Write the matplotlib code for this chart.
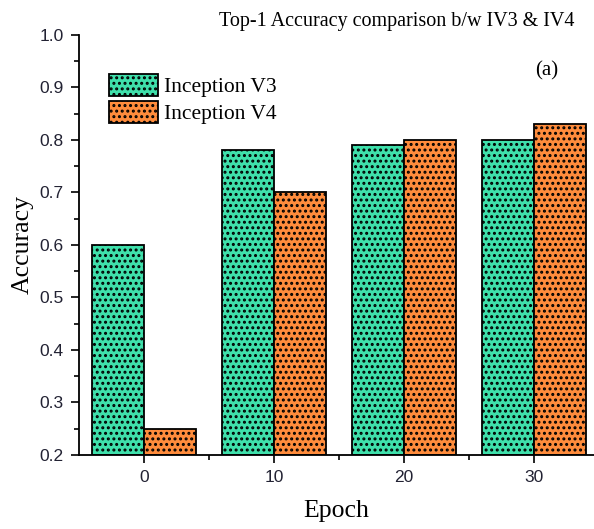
import matplotlib.pyplot as plt
import numpy as np

# данные с графика
epochs = [0, 10, 20, 30]
acc_v3 = [0.60, 0.78, 0.79, 0.80]
acc_v4 = [0.25, 0.70, 0.80, 0.83]
labels = ['Inception V3', 'Inception V4']

green = '#3fe0ab'
orange = '#ff8c3c'
plt.rcParams['hatch.linewidth'] = 1.4

fig = plt.figure(figsize=(5.94, 5.29), dpi=100)
ax = fig.add_axes([0.133, 0.140, 0.867, 0.794])

x = np.array(epochs)
w = 4
ax.bar(x - w / 2, np.array(acc_v3) - 0.2, w, bottom=0.2, color=green,
       edgecolor='black', linewidth=1.3, hatch='...', label=labels[0])
ax.bar(x + w / 2, np.array(acc_v4) - 0.2, w, bottom=0.2, color=orange,
       edgecolor='black', linewidth=1.3, hatch='...', label=labels[1])

ax.set_xlim(-5, 34.6)
ax.set_ylim(0.2, 1.0)
ax.set_xticks(epochs)
ax.set_xticks([5, 15, 25], minor=True)
ax.set_yticks(np.arange(0.2, 1.01, 0.1))
ax.set_yticks(np.arange(0.25, 1.0, 0.1), minor=True)
ax.set_yticklabels([f'{v:.1f}' for v in np.arange(0.2, 1.01, 0.1)])

for s in ['top', 'right']:
    ax.spines[s].set_visible(False)
for s in ['left', 'bottom']:
    ax.spines[s].set_linewidth(1.3)

ax.tick_params(which='major', direction='out', length=6, width=1.2,
               labelsize=12.5, pad=5)
ax.tick_params(which='minor', direction='out', length=3.5, width=1.2)
for t in ax.get_xticklabels() + ax.get_yticklabels():
    t.set_fontfamily('Liberation Sans')
    t.set_color('#222233')

ax.set_xlabel('Epoch', fontfamily='Liberation Serif', fontsize=18.5, labelpad=11)
ax.set_ylabel('Accuracy', fontfamily='Liberation Serif', fontsize=18.5, labelpad=4)

fig.text(0.668, 0.960, 'Top-1 Accuracy comparison b/w IV3 & IV4',
         fontfamily='Liberation Serif', fontsize=14.5, ha='center', va='center')
ax.text(0.909, 0.914, '(a)', transform=ax.transAxes,
        fontfamily='Liberation Serif', fontsize=15, ha='center', va='center')

ax.legend(loc='upper left', bbox_to_anchor=(0.058, 0.907), frameon=False,
          prop={'family': 'Liberation Serif', 'size': 15.5},
          handlelength=2.3, handleheight=1.2, handletextpad=0.25,
          labelspacing=0.18, borderaxespad=0, borderpad=0)

plt.savefig('out.png', dpi=100)
